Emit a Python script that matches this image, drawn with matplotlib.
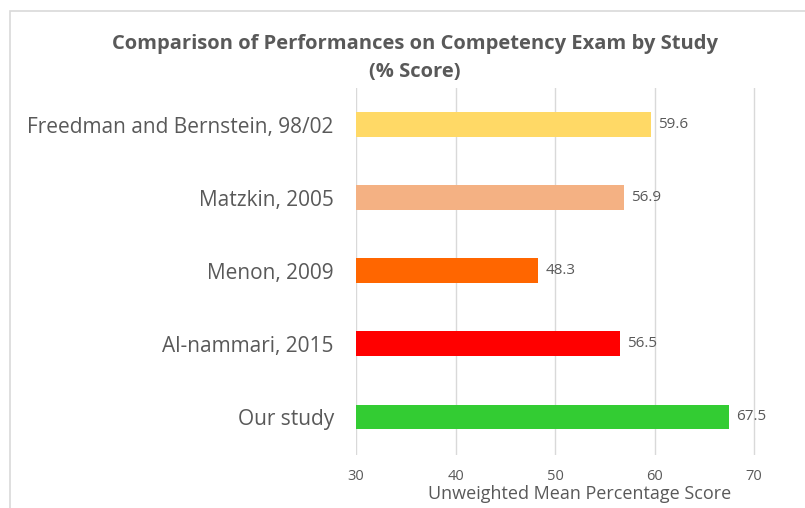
import matplotlib
matplotlib.use("Agg")
import matplotlib.pyplot as plt
from matplotlib.patches import Rectangle

studies = ["Freedman and Bernstein, 98/02", "Matzkin, 2005", "Menon, 2009",
           "Al-nammari, 2015", "Our study"]
scores = [59.6, 56.9, 48.3, 56.5, 67.5]
colors = ["#FFD966", "#F4B183", "#FF6600", "#FF0000", "#33CC33"]
xticks = [30, 40, 50, 60, 70]

plt.rcParams['font.family'] = ['Open Sans', 'DejaVu Sans']

fig = plt.figure(figsize=(8.05, 5.08), dpi=100)
fig.patches.append(Rectangle((10/805, -0.1), 1.2, 1 - 11/508 + 0.1,
                             transform=fig.transFigure, fill=False,
                             edgecolor="#D9D9D9", linewidth=1.2))

ax = fig.add_axes([356/805, 1 - 455/508, (804 - 356)/805, (455 - 88)/508])
ypos = list(range(len(studies)))[::-1]
ax.barh(ypos, [s - 30 for s in scores], left=30, height=0.34, color=colors, zorder=3)
for y, s in zip(ypos, scores):
    ax.text(s + 0.7, y, f"{s}", va="center", ha="left", fontsize=11, color="#595959")

ax.set_xlim(30, 75)
ax.set_ylim(-0.52, 4.5)
ax.set_xticks(xticks)
ax.set_yticks(ypos)
ax.set_yticklabels(studies, fontsize=15, color="#595959")
ax.tick_params(axis="y", length=0, pad=16)
ax.tick_params(axis="x", length=0, pad=10, labelsize=10.5, labelcolor="#595959")
ax.grid(axis="x", color="#D9D9D9", linewidth=1, zorder=0)
for sp in ax.spines.values():
    sp.set_visible(False)
ax.set_xlabel("Unweighted Mean Percentage Score", fontsize=13, color="#595959", labelpad=1)

fig.text(415/805, 1 - 58/508, "Comparison of Performances on Competency Exam by Study\n(% Score)",
         ha="center", va="center", fontsize=14.5, fontweight="bold", color="#595959",
         linespacing=1.6)

fig.savefig("out.png", dpi=100)
